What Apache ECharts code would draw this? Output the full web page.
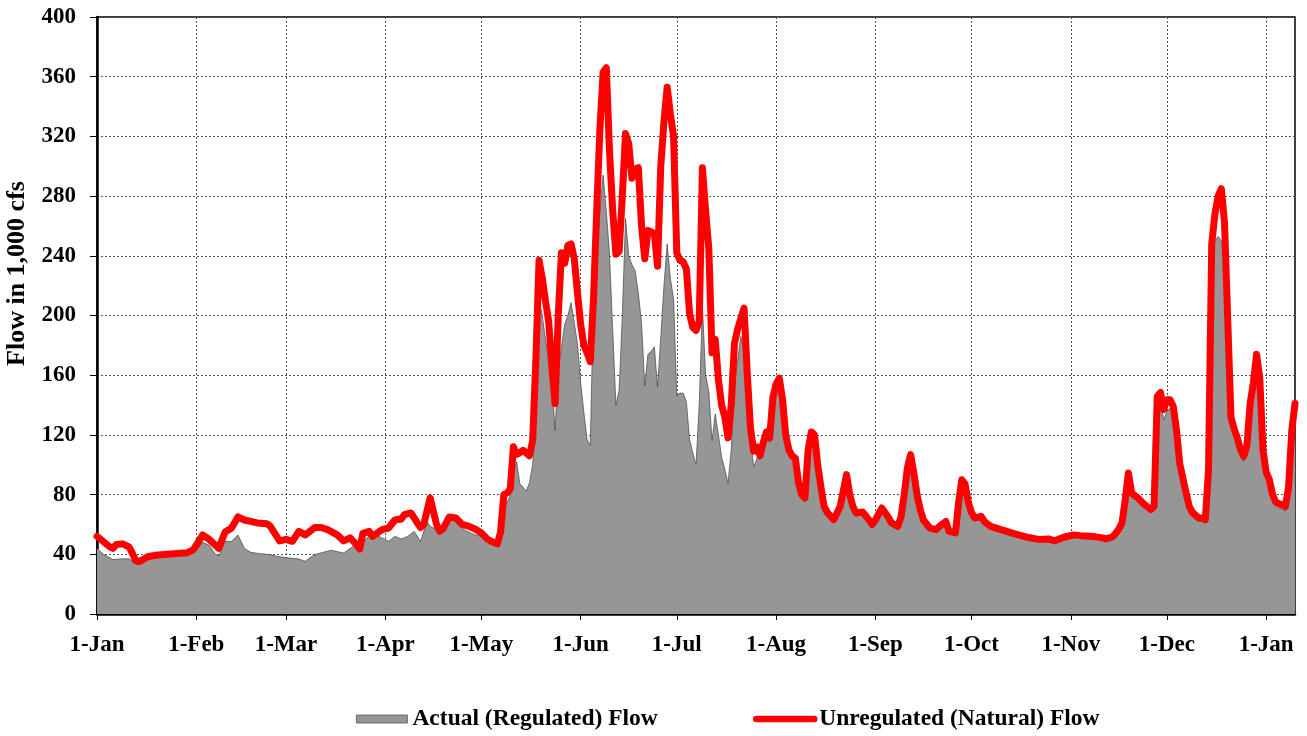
<!DOCTYPE html>
<html>
<head>
<meta charset="utf-8">
<script src="https://cdn.jsdelivr.net/npm/echarts@6/dist/echarts.min.js"></script>
<style>
  html, body { margin: 0; padding: 0; background: #fff; }
  #chart { width: 1307px; height: 736px; }
</style>
</head>
<body>
<div id="chart"></div>
<script>
// month labels for the x axis, one category per day from 1-Jan
const monthNames = ['Jan', 'Feb', 'Mar', 'Apr', 'May', 'Jun', 'Jul', 'Aug', 'Sep', 'Oct', 'Nov', 'Dec', 'Jan']
const monthDays = [31, 28, 31, 30, 31, 30, 31, 31, 30, 31, 30, 31, 10]

// unregulated (natural) flow, day index from 1-Jan, 1,000 cfs
const natDays = [0, 2, 4, 5, 6, 8, 10, 11, 12, 13, 14, 16, 19, 22, 25, 28, 30, 31, 33, 35, 38, 40, 42, 44, 46, 48, 50, 53, 54, 57, 59, 61, 63, 65, 68, 70, 72, 75, 77, 79, 81, 82, 83, 85, 86, 89, 91, 93, 95, 96, 98, 100, 101, 102, 104, 106, 107, 108, 110, 112, 114, 116, 118, 120, 122, 123, 125, 126, 127, 128, 129, 130, 131, 132, 133, 135, 136, 137, 138, 139, 140, 141, 142, 143, 144, 145, 146, 147, 148, 149, 150, 151, 152, 153, 154, 155, 156, 157, 158, 159, 160, 161, 162, 163, 164, 165, 166, 167, 168, 169, 170, 171, 172, 173, 174, 175, 176, 177, 178, 179, 180, 181, 182, 183, 184, 185, 186, 187, 188, 189, 190, 191, 192, 193, 194, 195, 196, 197, 198, 199, 200, 201, 202, 203, 204, 205, 206, 207, 208, 209, 210, 211, 212, 213, 214, 215, 216, 217, 218, 219, 220, 221, 222, 223, 224, 225, 226, 227, 228, 230, 232, 234, 235, 236, 237, 239, 241, 242, 243, 245, 247, 248, 250, 251, 252, 253, 254, 255, 256, 257, 258, 260, 262, 263, 265, 266, 268, 269, 270, 271, 272, 273, 274, 276, 277, 279, 283, 286, 290, 294, 297, 299, 302, 305, 307, 311, 314, 315, 317, 318, 319, 320, 321, 322, 323, 325, 327, 329, 330, 331, 332, 333, 334, 335, 336, 337, 338, 340, 341, 342, 344, 345, 346, 347, 348, 349, 350, 351, 352, 353, 354, 355, 356, 357, 358, 359, 360, 361, 362, 363, 364, 365, 366, 367, 368, 370, 371, 372, 373, 374]
const natFlow = [52, 48.5, 45, 44, 46.5, 47, 45, 41, 36, 35, 36, 38.5, 39.5, 40, 40.5, 41, 43, 46, 53, 50, 44, 55, 57.6, 65, 63, 62, 61, 60.5, 59, 49, 50, 48.7, 55.4, 53, 58, 58, 56.5, 53, 49, 51, 46.5, 43.6, 54, 55.4, 52, 56.5, 57.6, 63, 63.7, 66.6, 67.7, 61, 58, 60, 77.8, 60, 55.4, 57, 65, 64.4, 60, 58.8, 57, 54.3, 50, 48.7, 47, 55, 80, 81, 83.7, 112, 107, 108, 109.7, 106, 116, 170, 237, 225, 210, 196, 166, 141, 200, 242, 235, 247, 248, 238, 215, 194, 180, 175, 169, 211, 270, 325, 363, 366, 310, 270, 241, 243, 280, 322, 315, 292, 298, 299, 260, 238, 257, 256, 255, 233, 300, 330, 353, 335, 320, 242, 237, 236, 231, 201, 192, 190, 196, 299, 270, 245, 175, 184, 157, 140, 132, 118, 140, 181, 191, 198, 205, 161, 125, 109, 112, 106, 115, 122, 118, 145, 154, 158, 144, 120, 110, 106, 104.5, 88, 80, 77.7, 110, 122, 120, 100, 85, 72, 68, 63.2, 72, 93.4, 80, 72, 67.7, 68.3, 63, 60, 63, 71, 65, 61, 58.7, 65, 80, 98, 106.8, 94.5, 80, 70, 63, 57.6, 56.5, 58.7, 62, 55.4, 54.3, 75, 90, 87, 75, 68, 64.3, 65.4, 62, 58.7, 56, 54, 51.6, 50, 50.3, 49, 51.6, 53, 52.5, 52, 51, 50.3, 51.6, 54, 57, 61, 76.6, 94.5, 81, 77.7, 73.3, 70, 72, 145.8, 148.5, 137, 143.6, 143.6, 139, 123.5, 101, 81, 72, 68, 64.3, 64.3, 63.2, 96.7, 248, 268, 280, 285, 262, 197, 132, 124, 118, 110, 105.6, 113, 141, 155, 174, 158, 110, 95, 90, 80, 75, 73, 72, 85, 123, 141]

// actual (regulated) flow
const actDays = [0, 2, 5, 8, 10, 12, 13, 16, 20, 25, 28, 30, 31, 33, 35, 37, 38, 40, 42, 44, 46, 48, 51, 54, 56, 60, 63, 65, 66, 68, 70, 73, 77, 80, 82, 83, 85, 88, 91, 93, 95, 97, 99, 101, 103, 104, 106, 108, 111, 113, 115, 118, 120, 122, 125, 126, 127, 128, 129, 130, 131, 132, 134, 135, 136, 137, 138, 139, 140, 141, 142, 143, 144, 145, 146, 147, 148, 149, 150, 151, 152, 153, 154, 155, 156, 157, 158, 159, 160, 161, 162, 163, 164, 165, 166, 167, 168, 169, 170, 171, 172, 173, 174, 175, 176, 177, 178, 179, 180, 181, 182, 183, 184, 185, 186, 187, 188, 189, 190, 191, 192, 193, 194, 195, 196, 197, 198, 199, 200, 201, 202, 203, 204, 205, 206, 207, 208, 209, 210, 211, 212, 213, 214, 215, 216, 217, 218, 219, 220, 221, 222, 223, 224, 225, 226, 227, 228, 230, 232, 234, 235, 236, 237, 239, 241, 242, 243, 245, 247, 248, 250, 251, 252, 253, 254, 255, 256, 257, 258, 260, 262, 263, 265, 266, 268, 269, 270, 271, 272, 273, 274, 276, 277, 279, 283, 286, 290, 294, 297, 299, 302, 305, 307, 311, 314, 315, 317, 318, 319, 320, 321, 322, 323, 325, 327, 329, 330, 331, 332, 333, 334, 335, 336, 337, 338, 340, 341, 342, 344, 345, 346, 347, 348, 349, 350, 351, 352, 353, 354, 355, 356, 357, 358, 359, 360, 361, 362, 363, 364, 365, 366, 367, 368, 370, 371, 372, 373, 374]
const actFlow = [44, 40, 36.5, 37, 37, 34, 33.5, 37, 38.5, 39.5, 40, 41, 43, 48, 46, 40, 38.7, 48.7, 48.7, 53, 44, 41.3, 40.4, 39.8, 38.7, 37.5, 36.9, 35.3, 37, 39.8, 41, 42.7, 40.9, 45.4, 43, 48, 52.5, 52, 48.7, 52, 50.3, 52, 55.4, 48.7, 62, 58.8, 56.5, 57.6, 64, 60, 56, 53, 52, 48.7, 47, 55, 70, 75, 79, 95, 102, 87.4, 82.4, 88, 100, 127, 211, 200, 184, 170, 157, 123, 165, 179, 194, 200, 208.6, 195, 181, 155, 135, 117, 113, 211, 240, 270, 294, 270, 241, 190, 140, 150, 200, 265, 240, 234, 230, 215, 195, 153, 174, 176, 179, 152, 185, 220, 248, 225, 211, 146, 148, 148, 142, 117, 108, 100, 140, 206, 160, 149, 116, 134, 120, 105, 97, 87.4, 110, 154, 170, 186, 175, 147, 118, 98.5, 104, 109.6, 113, 118, 115, 142, 151, 155, 140, 118, 107, 103, 101, 86, 79, 76, 108, 119, 117, 98, 83, 70, 66, 61.5, 70, 91, 78, 70, 66, 66.5, 61.5, 58.5, 61.5, 69, 63.5, 59.5, 57, 63, 78, 96, 105, 92, 78, 68, 61.5, 56, 55, 57, 60, 54, 53, 73, 88, 85, 73, 66, 62.5, 63.5, 60.5, 57, 54.5, 52.5, 50, 48.5, 49, 47.5, 50, 51.5, 51, 50.5, 49.5, 49, 50, 52, 55, 59, 74, 92, 79, 75.5, 71, 68, 70, 140, 143, 130, 136, 138, 134, 119, 98, 78, 69, 65, 62, 62, 61, 93, 240, 250, 253, 250, 240, 190, 128, 120, 114, 107, 102, 109, 136, 150, 168, 152, 106, 92, 87, 77, 72, 70, 69, 82, 119, 137]

const yTicks = { min: 0, max: 400, interval: 40 }

const days = []
monthNames.forEach((m, i) => {
  for (let d = 1; d <= monthDays[i]; d++) days.push(d + '-' + m)
})
const isMonthStart = (idx, val) => val.indexOf('1-') === 0

const font = "'Liberation Serif', 'Times New Roman', serif"
const legendText = { fontFamily: font, fontWeight: 'bold', fontSize: 23.5, color: '#000' }
const chart = echarts.init(document.getElementById('chart'))

const option = {
  animation: false,
  grid: {
    left: 97, right: 12, top: 17, bottom: 122,
    show: true, borderColor: '#000', borderWidth: 1.5,
    outerBoundsMode: 'none'
  },
  legend: [
    {
      left: 356, top: 707, padding: 0,
      itemWidth: 51, itemHeight: 8,
      textStyle: legendText,
      data: [{ name: 'Actual (Regulated) Flow', icon: 'rect', itemStyle: { color: '#969696', borderColor: '#555', borderWidth: 0.8 } }]
    },
    {
      left: 753, top: 707, padding: 0,
      itemWidth: 58, itemHeight: 8,
      textStyle: legendText,
      data: [{ name: 'Unregulated (Natural) Flow', itemStyle: { opacity: 0 }, lineStyle: { width: 6.5, color: '#ff0000', cap: 'round' } }]
    }
  ],
  xAxis: {
    type: 'category',
    data: days,
    boundaryGap: false,
    axisLine: { lineStyle: { color: '#000', width: 2.5 } },
    axisTick: { interval: isMonthStart, length: 6, lineStyle: { color: '#000', width: 1 } },
    axisLabel: { interval: isMonthStart, margin: 20, fontFamily: font, fontWeight: 'bold', fontSize: 23, color: '#000' },
    splitLine: { show: true, interval: isMonthStart, lineStyle: { color: '#555', type: [2, 2], width: 1 } }
  },
  yAxis: {
    type: 'value',
    min: yTicks.min, max: yTicks.max, interval: yTicks.interval,
    name: 'Flow in 1,000 cfs',
    nameLocation: 'middle',
    nameGap: 64,
    nameTextStyle: { fontFamily: font, fontWeight: 'bold', fontSize: 26, color: '#000', padding: [0, 0, 0, 84] },
    axisLine: { show: true, lineStyle: { color: '#000', width: 2.5 } },
    axisTick: { show: true, length: 7, lineStyle: { color: '#000', width: 1 } },
    axisLabel: { margin: 21, fontFamily: font, fontWeight: 'bold', fontSize: 23, color: '#000' },
    splitLine: { show: true, lineStyle: { color: '#555', type: [2, 2], width: 1 } }
  },
  series: [
    {
      name: 'Actual (Regulated) Flow',
      type: 'line',
      data: actDays.map((d, i) => [d, actFlow[i]]),
      symbol: 'none',
      color: '#969696',
      lineStyle: { color: '#444', width: 0.7 },
      areaStyle: { color: '#969696', opacity: 1 },
      z: 2
    },
    {
      name: 'Unregulated (Natural) Flow',
      type: 'line',
      data: natDays.map((d, i) => [d, natFlow[i]]),
      symbol: 'none',
      color: '#ff0000',
      lineStyle: { color: '#ff0000', width: 7, join: 'round', cap: 'round' },
      z: 3
    }
  ]
}

chart.setOption(option)
</script>
</body>
</html>
